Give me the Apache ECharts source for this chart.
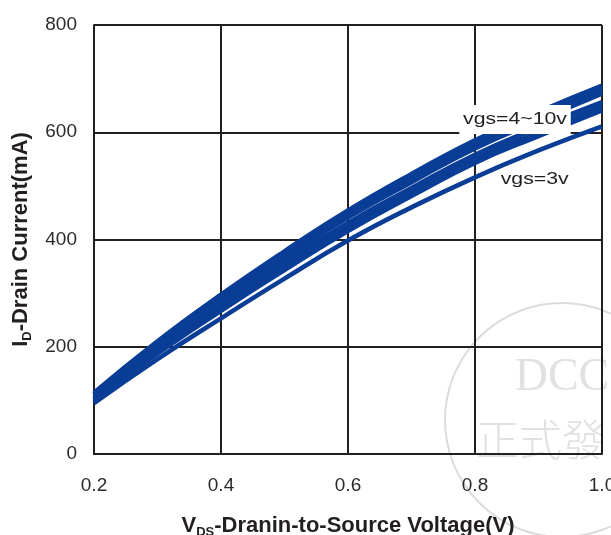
<!DOCTYPE html>
<html>
<head>
<meta charset="utf-8">
<script src="https://cdn.jsdelivr.net/npm/echarts@6/dist/echarts.min.js"></script>
<style>
  html, body { margin: 0; padding: 0; background: #ffffff; overflow: hidden; }
  #chart { width: 611px; height: 535px; }
</style>
</head>
<body>
<div id="chart"></div>
<script>
// Drain-to-source voltage (V) sample points
const vds = [0.2, 0.3, 0.4, 0.5, 0.6, 0.7, 0.8, 0.9, 1.0];

// Drain current (mA) for each gate voltage
const idVgs10 = [114, 210, 297, 378, 454, 522, 585, 638, 687];
const idVgs9  = [112, 207, 294, 374, 450, 518, 581, 633, 682];
const idVgs8  = [111, 205, 291, 370, 446, 513, 576, 628, 677];
const idVgs7  = [109, 202, 287, 365, 441, 507, 570, 622, 672];
const idVgs6  = [105, 196, 280, 357, 431, 496, 558, 609, 656];
const idVgs5  = [102, 191, 273, 350, 423, 488, 550, 600, 648];
const idVgs4  = [100, 187, 267, 343, 416, 481, 543, 593, 641];
const idVgs3  = [ 95, 177, 253, 327, 398, 460, 516, 566, 611];

const curveNames = ['vgs=10v', 'vgs=9v', 'vgs=8v', 'vgs=7v', 'vgs=6v', 'vgs=5v', 'vgs=4v', 'vgs=3v'];
const curveValues = [idVgs10, idVgs9, idVgs8, idVgs7, idVgs6, idVgs5, idVgs4, idVgs3];

// Curve annotations: text and the data point they sit on
const bandLabel = { text: 'vgs=4~10v', at: [0.863, 624] };
const lowLabel  = { text: 'vgs=3v',    at: [0.894, 513] };

const inkColor = '#231f20';
const curveColor = '#0a3d95';
const fontFamily = "'Liberation Sans', Arial, Helvetica, sans-serif";

const chart = echarts.init(document.getElementById('chart'), null, { renderer: 'canvas', width: 611, height: 535 });

const series = curveNames.map((name, i) => ({
  name: name,
  type: 'line',
  smooth: true,
  showSymbol: false,
  silent: true,
  z: 3,
  lineStyle: { color: curveColor, width: 4.6 },
  data: vds.map((v, k) => [v, curveValues[i][k]])
}));

const titleRich = {
  b:   { fontSize: 22, fontWeight: 'bold', color: inkColor, fontFamily: fontFamily, lineHeight: 26 },
  sub: { fontSize: 13, fontWeight: 'bold', color: inkColor, fontFamily: fontFamily, lineHeight: 15, verticalAlign: 'bottom' }
};

chart.setOption({
  animation: false,
  backgroundColor: '#ffffff',
  grid: { left: 94, top: 25, right: 9, bottom: 81, containLabel: false, outerBoundsMode: 'none' },
  xAxis: {
    type: 'value',
    min: 0.2, max: 1.0, interval: 0.2,
    name: '{b|V}{sub|DS}{b|-Dranin-to-Source Voltage(V)}',
    nameLocation: 'middle',
    nameGap: 59,
    nameTextStyle: { rich: titleRich },
    axisLine: { show: true, lineStyle: { color: inkColor, width: 2 } },
    axisTick: { show: false },
    axisLabel: {
      margin: 22,
      color: '#2c2a2b',
      fontSize: 19,
      fontFamily: fontFamily,
      formatter: v => v.toFixed(1)
    },
    splitLine: { show: true, lineStyle: { color: inkColor, width: 2 } }
  },
  yAxis: {
    type: 'value',
    min: 0, max: 800, interval: 200,
    name: '{b|I}{sub|D}{b|-Drain Current(mA)}',
    nameLocation: 'middle',
    nameRotate: 90,
    nameGap: 60,
    nameTextStyle: { rich: titleRich },
    axisLine: { show: true, lineStyle: { color: inkColor, width: 2 } },
    axisTick: { show: false },
    axisLabel: {
      margin: 17,
      color: '#2c2a2b',
      fontSize: 19,
      fontFamily: fontFamily
    },
    splitLine: { show: true, lineStyle: { color: inkColor, width: 2 } }
  },
  series: series
});

// Place annotations and the stamp after the axes exist
const bandPos = chart.convertToPixel({ gridIndex: 0 }, bandLabel.at);
const lowPos  = chart.convertToPixel({ gridIndex: 0 }, lowLabel.at);

chart.setOption({
  graphic: [
    // faint circular stamp behind the grid
    {
      type: 'circle', z: -10, silent: true,
      shape: { cx: 562, cy: 420, r: 117 },
      style: { fill: 'none', stroke: '#dcdcdc', lineWidth: 2 }
    },
    {
      type: 'text', z: -10, silent: true, x: 562, y: 378,
      style: { text: 'DCC', fill: '#e1e1e1', font: "46px 'Liberation Serif', 'DejaVu Serif', serif", align: 'center', verticalAlign: 'middle' }
    },
    {
      type: 'text', z: -10, silent: true, x: 476, y: 440,
      style: { text: '正式發', fill: '#e1e1e1', font: "300 43px 'Noto Sans CJK TC', sans-serif", align: 'left', verticalAlign: 'middle' }
    },
    // curve annotations
    {
      type: 'text', z: 100, silent: true,
      x: bandPos[0], y: bandPos[1], scaleX: 1.25,
      style: {
        text: bandLabel.text, fill: inkColor,
        font: "17px " + fontFamily,
        align: 'center', verticalAlign: 'middle',
        backgroundColor: '#ffffff', padding: [6, 3, 6, 3]
      }
    },
    {
      type: 'text', z: 100, silent: true,
      x: lowPos[0], y: lowPos[1], scaleX: 1.25,
      style: {
        text: lowLabel.text, fill: inkColor,
        font: "17px " + fontFamily,
        align: 'center', verticalAlign: 'middle'
      }
    }
  ]
});
</script>
</body>
</html>
